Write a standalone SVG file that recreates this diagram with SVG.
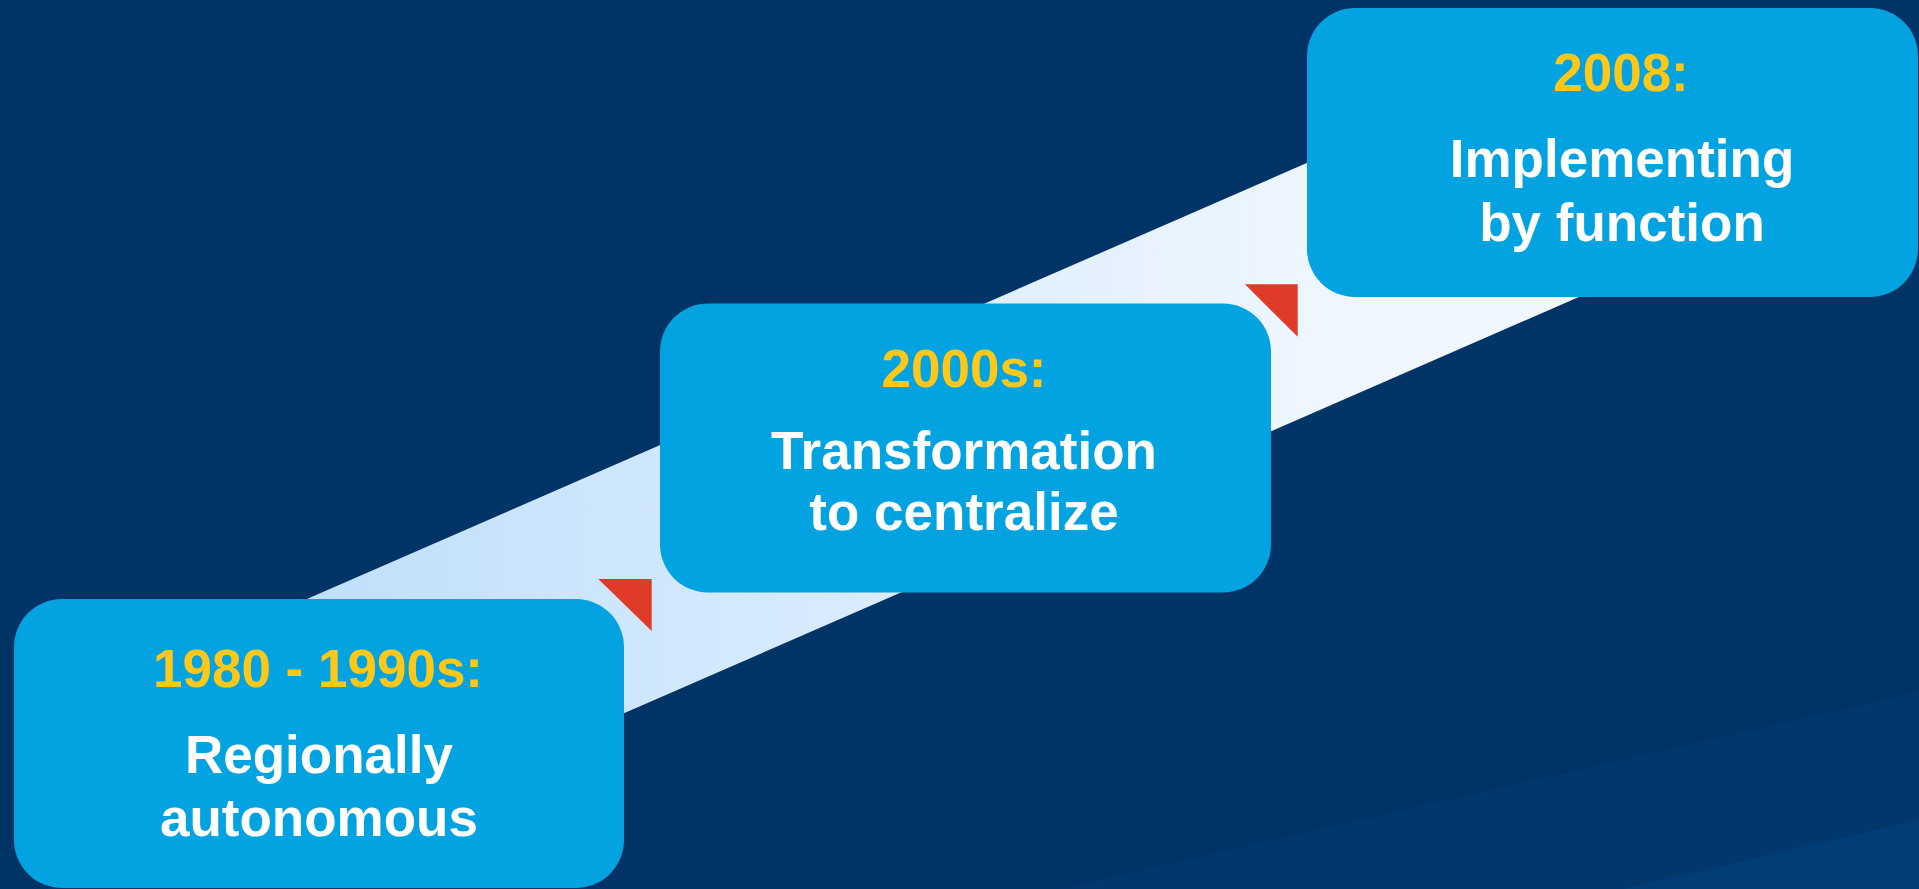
<svg xmlns="http://www.w3.org/2000/svg" width="1919" height="889" viewBox="0 0 1919 889">
  <defs>
    <linearGradient id="bandGrad" gradientUnits="userSpaceOnUse" x1="300" y1="0" x2="1350" y2="0">
      <stop offset="0" stop-color="#BFDFFB"/>
      <stop offset="1" stop-color="#F0F7FE"/>
    </linearGradient>
    <style>
      .box { fill: #02A3E0; }
      .year { font-family: "Liberation Sans", Arial, sans-serif; font-weight: bold; font-size: 53px; fill: #FFC819; text-anchor: middle; }
      .label { font-family: "Liberation Sans", Arial, sans-serif; font-weight: bold; font-size: 53px; fill: #FFFFFF; text-anchor: middle; }
      .tri { fill: #E03A28; }
    </style>
  </defs>

  <g id="background">
    <rect x="0" y="0" width="1919" height="889" fill="#003366"/>
    <polygon points="1058,889 1919,691.7 1919,889" fill="#00376D"/>
    <polygon points="1623,889 1919,820 1919,889" fill="#013D77"/>
  </g>

  <g id="connectors">
    <polygon points="250,623.8 1600,35.2 1600,287.8 250,876.3" fill="url(#bandGrad)"/>
    <polygon class="tri" points="598.3,579 651.7,579 651.7,631"/>
    <polygon class="tri" points="1245,284.3 1297.7,284.3 1297.7,336.7"/>
  </g>

  <g id="node-1980">
    <rect class="box" x="14" y="599" width="610" height="289" rx="48" ry="48"/>
    <text class="year" x="318" y="687">1980 - 1990s:</text>
    <text class="label" x="319" y="773">Regionally</text>
    <text class="label" x="319" y="836">autonomous</text>
  </g>

  <g id="node-2000s">
    <rect class="box" x="660" y="303.5" width="611" height="289" rx="48" ry="48"/>
    <text class="year" x="964" y="387">2000s:</text>
    <text class="label" x="964" y="469">Transformation</text>
    <text class="label" x="964" y="530">to centralize</text>
  </g>

  <g id="node-2008">
    <rect class="box" x="1307" y="8" width="611" height="289" rx="48" ry="48"/>
    <text class="year" x="1621" y="91">2008:</text>
    <text class="label" x="1622" y="177">Implementing</text>
    <text class="label" x="1622" y="241">by function</text>
  </g>
</svg>
